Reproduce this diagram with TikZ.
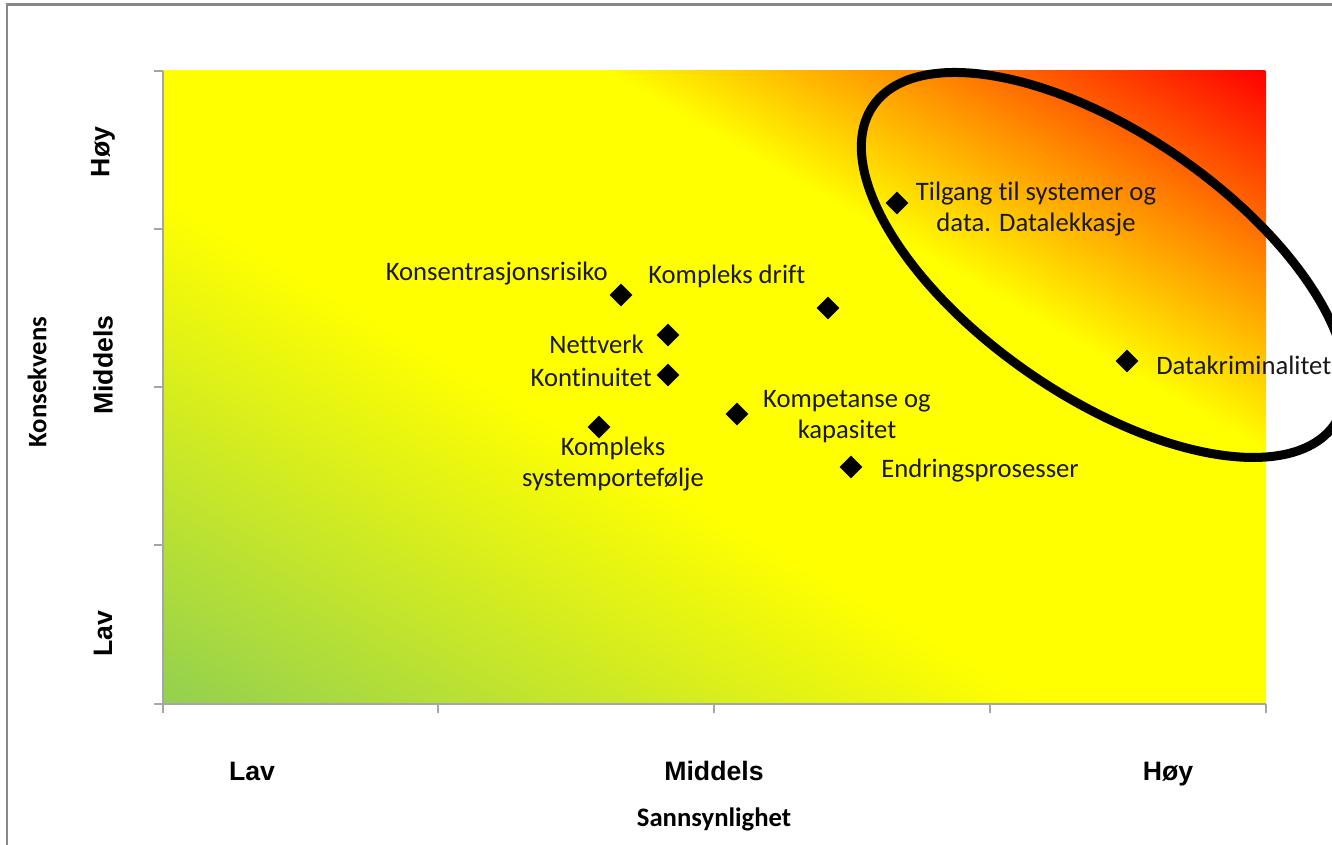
\documentclass[tikz,border=0pt]{standalone}
\usepackage{fontspec}
\setmainfont{Carlito}[Ligatures={NoCommon}]
\newfontfamily\arialbd{Liberation Sans}[UprightFont=*-Bold]
\usepackage{tikz}
\usetikzlibrary{shapes.geometric}
\definecolor{rgreen}{HTML}{92D050}
\definecolor{ryellow}{HTML}{FFFF00}
\definecolor{rorange}{HTML}{FF8C00}
\definecolor{rred}{HTML}{FF0000}
\definecolor{framegray}{HTML}{888888}
\definecolor{axisgray}{HTML}{A6A6A6}
% 25bp = bottom-left corner, 75bp = top-right corner
\pgfdeclarehorizontalshading{riskgrad}{100bp}{color(0bp)=(rgreen); color(25bp)=(rgreen); color(45bp)=(ryellow); color(60bp)=(ryellow); color(67bp)=(rorange); color(75bp)=(rred); color(100bp)=(rred)}
\tikzset{
    risk/.style={diamond, fill=black, minimum size=17.25pt, inner sep=0pt},
    lbl/.style={font=\fontsize{20}{23.25}\selectfont, inner sep=0pt, text=black!90},
    cat/.style={font=\arialbd\fontsize{20}{22}\selectfont, inner sep=0pt},
    ttl/.style={font=\bfseries\fontsize{20}{24}\selectfont, inner sep=0pt},
    axis/.style={draw=axisgray, line width=1.1pt},
}

\begin{document}
\begin{tikzpicture}[x=0.75pt, y=-0.75pt]
    \useasboundingbox (0,0) rectangle (1332,845);
    \clip (0,0) rectangle (1332,845);
    % frame
    \draw[framegray, line width=1.6pt] (7,850) -- (7,4.5) -- (1340,4.5);
    % plot area
    \coordinate (bl) at (163,704);
    \begin{scope}
        \clip (163,71) rectangle (1266,704);
        \shade[shading=riskgrad, transform canvas={rotate around={60.1:(bl)}}]
            (163,304) rectangle (1261.6,1704);
    \end{scope}
    \draw[axis] (163,71) -- (163,704) -- (1266,704);
    \foreach \y in {71,229,387,545,704}
        \draw[axis] (154,\y) -- (163,\y);
    \foreach \x in {163,438,714,990,1266}
        \draw[axis] (\x,704) -- (\x,713);

    % axis labels
    \node [cat, rotate=90] (yhoy) at (103,152) {Høy};
    \node [cat, rotate=90] (ymid) at (103,365) {Middels};
    \node [cat, rotate=90] (ylav) at (103,634) {Lav};
    \node [cat, anchor=base] (xlav) at (252,780) {Lav};
    \node [cat, anchor=base] (xmid) at (714,780) {Middels};
    \node [cat, anchor=base] (xhoy) at (1168,780) {Høy};
    \node [ttl, rotate=90] (ytitle) at (37,382) {Konsekvens};
    \node [ttl, anchor=base] (xtitle) at (714,826) {Sannsynlighet};

    % risks
    \node [risk] (konsrisk) at (621,295) {};
    \node [risk] (drift) at (828,308) {};
    \node [risk] (nettverk) at (668,335) {};
    \node [risk] (kontin) at (668,375) {};
    \node [risk] (sysport) at (599,427) {};
    \node [risk] (kompet) at (737,414) {};
    \node [risk] (endring) at (851,467) {};
    \node [risk] (tilgang) at (897,203) {};
    \node [risk] (datakrim) at (1127,361) {};

    \node [lbl, anchor=base east] (konsrisk-l) at (608,281) {Konsentrasjonsrisiko};
    \node [lbl, anchor=base west] (drift-l) at (648,283) {Kompleks drift};
    \node [lbl, anchor=base east] (nettverk-l) at (644,353) {Nettverk};
    \node [lbl, anchor=base east] (kontin-l) at (652,386) {Kontinuitet};
    \node [lbl, align=center] (sysport-l) at (613,464) {Kompleks\\systemportefølje};
    \node [lbl, align=center] (kompet-l) at (847,417) {Kompetanse og\\kapasitet};
    \node [lbl, anchor=base west] (endring-l) at (881,477) {Endringsprosesser};
    \node [lbl, align=center] (tilgang-l) at (1036,209) {Tilgang til systemer og\\data. Datalekkasje};
    \node [lbl, anchor=base west] (datakrim-l) at (1156,374) {Datakriminalitet};

    % high-risk zone
    \coordinate (zone) at (1104,265);
    \draw[line width=6.75pt, rotate around={-34.6:(zone)}] (zone) ellipse [x radius=280.4, y radius=131.4];
\end{tikzpicture}
\end{document}
